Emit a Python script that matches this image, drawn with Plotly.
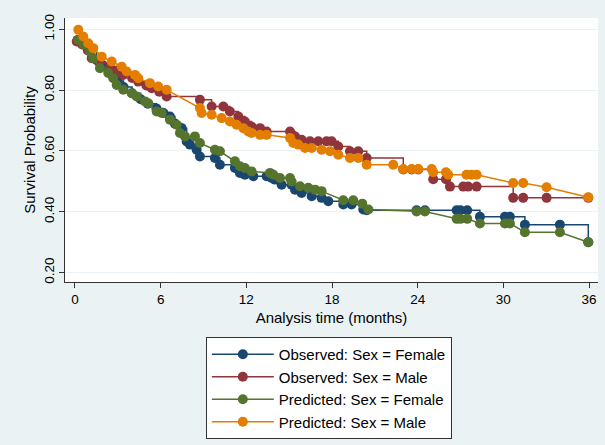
import plotly.graph_objects as go

# Kaplan-Meier (observed) and model-based (predicted) survival by sex
obs_f_t = [0.2, 0.6, 1.05, 1.5, 2.0, 2.6, 3.0, 3.4, 4.0, 4.6, 5.1, 5.7, 6.2, 6.65, 7.0, 7.47,
           7.82, 8.05, 8.52, 8.75, 9.8, 10.15, 11.2, 11.55, 11.9, 12.49, 13.42, 13.77, 14.0,
           14.47, 15.17, 15.41, 15.87, 16.58, 17.27, 17.74, 18.79, 19.37, 20.19, 20.43, 23.92,
           24.51, 26.73, 27.0, 27.47, 28.36, 30.11, 30.46, 31.51, 33.96, 35.95]
obs_f_s = [0.965, 0.95, 0.928, 0.9, 0.88, 0.85, 0.83, 0.81, 0.79, 0.77, 0.755, 0.74, 0.725, 0.713,
           0.69, 0.675, 0.631, 0.621, 0.604, 0.582, 0.577, 0.555, 0.544, 0.528, 0.522, 0.517, 0.517,
           0.511, 0.506, 0.489, 0.489, 0.473, 0.462, 0.451, 0.446, 0.435, 0.424, 0.424, 0.408,
           0.405, 0.405, 0.405, 0.405, 0.405, 0.405, 0.384, 0.384, 0.384, 0.358, 0.358, 0.30]

obs_m_t = [0.12, 0.5, 0.9, 1.17, 1.7, 2.45, 3.0, 3.38, 4.0, 4.43, 5.0, 5.37, 5.9, 6.42, 8.75,
           9.57, 10.39, 10.85, 11.44, 11.9, 12.37, 12.96, 13.42, 15.06, 15.41, 15.87, 16.46,
           17.04, 17.62, 17.97, 18.44, 19.26, 19.84, 20.43, 22.99, 23.58, 24.04, 25.09, 25.98,
           26.26, 27.19, 27.54, 28.13, 30.69, 31.39, 33.03, 35.95]
obs_m_s = [0.96, 0.95, 0.93, 0.905, 0.89, 0.877, 0.865, 0.85, 0.84, 0.828, 0.815, 0.806, 0.795,
           0.779, 0.768, 0.746, 0.746, 0.73, 0.713, 0.697, 0.68, 0.675, 0.664, 0.664, 0.648, 0.637,
           0.632, 0.632, 0.632, 0.632, 0.615, 0.599, 0.599, 0.577, 0.539, 0.539, 0.539, 0.507,
           0.507, 0.483, 0.483, 0.483, 0.483, 0.446, 0.446, 0.446, 0.446]

pred_f_t = [0.23, 0.6, 1.05, 1.28, 1.75, 2.33, 2.68, 2.92, 3.38, 3.97, 4.32, 4.9, 5.13, 5.72, 6.07,
            6.65, 7.12, 7.35, 7.7, 8.4, 8.75, 9.8, 10.15, 11.2, 11.55, 11.9, 12.37, 13.66, 13.89,
            14.36, 15.06, 15.17, 15.76, 16.34, 16.81, 17.27, 18.79, 19.49, 20.12, 20.55, 23.92,
            24.51, 26.73, 27.0, 27.47, 28.36, 30.11, 30.46, 31.51, 33.96, 35.95]
pred_f_s = [0.965, 0.95, 0.927, 0.905, 0.872, 0.856, 0.839, 0.817, 0.801, 0.79, 0.779, 0.763, 0.757,
            0.73, 0.725, 0.703, 0.686, 0.659, 0.648, 0.648, 0.626, 0.604, 0.599, 0.566, 0.55, 0.544,
            0.533, 0.528, 0.522, 0.511, 0.511, 0.5, 0.484, 0.479, 0.473, 0.468, 0.438, 0.438, 0.427,
            0.408, 0.401, 0.401, 0.377, 0.377, 0.377, 0.362, 0.362, 0.362, 0.333, 0.333, 0.30]

pred_m_t = [0.23, 0.58, 0.93, 1.28, 1.87, 2.57, 3.27, 3.62, 4.2, 4.43, 5.25, 5.83, 6.42, 8.75,
            8.87, 9.57, 10.27, 10.85, 11.32, 11.79, 12.14, 12.37, 12.96, 13.42, 15.06, 15.29,
            15.64, 16.11, 16.58, 17.27, 17.86, 18.44, 19.26, 19.84, 20.43, 22.29, 22.99, 23.58,
            24.04, 24.98, 25.09, 25.98, 26.14, 27.42, 27.76, 28.13, 30.69, 31.39, 33.03, 35.95]
pred_m_s = [0.998, 0.976, 0.954, 0.938, 0.91, 0.894, 0.877, 0.861, 0.85, 0.839, 0.823, 0.812,
            0.801, 0.741, 0.725, 0.719, 0.708, 0.697, 0.686, 0.675, 0.664, 0.659, 0.653, 0.653,
            0.643, 0.626, 0.621, 0.61, 0.61, 0.604, 0.599, 0.588, 0.577, 0.577, 0.555, 0.555,
            0.541, 0.541, 0.541, 0.541, 0.53, 0.53, 0.522, 0.522, 0.522, 0.522, 0.495, 0.495,
            0.481, 0.448]

x_ticks = [0, 6, 12, 18, 24, 30, 36]
y_ticks = [0.2, 0.4, 0.6, 0.8, 1.0]
y_tick_text = ["0.20", "0.40", "0.60", "0.80", "1.00"]

series = [
    ("Observed: Sex = Female", obs_f_t, obs_f_s, "#1a476f", "hv"),
    ("Observed: Sex = Male", obs_m_t, obs_m_s, "#90353b", "hv"),
    ("Predicted: Sex = Female", pred_f_t, pred_f_s, "#55752f", "linear"),
    ("Predicted: Sex = Male", pred_m_t, pred_m_s, "#e37e00", "linear"),
]

FONT = "Liberation Sans, Arial, sans-serif"

fig = go.Figure()
for name, t, s, color, shape in series:
    fig.add_trace(go.Scatter(
        x=t, y=s, name=name, mode="lines+markers",
        line=dict(color=color, width=1.5, shape=shape),
        marker=dict(color=color, size=10, line=dict(width=0)),
    ))

fig.update_layout(
    width=605, height=445,
    margin=dict(l=65, r=7, t=18, b=163, autoexpand=False),
    paper_bgcolor="#eaf2f3",
    plot_bgcolor="white",
    font=dict(family=FONT, size=14, color="black"),
    showlegend=True,
    legend=dict(
        x=0.495, xanchor="center", y=-0.208, yanchor="top",
        bgcolor="white", bordercolor="#333333", borderwidth=1,
        font=dict(family=FONT, size=15, color="black"),
        itemwidth=62, tracegroupgap=0,
    ),
    xaxis=dict(
        range=[-0.7, 36.63], tickmode="array", tickvals=x_ticks,
        ticks="outside", ticklen=5, tickcolor="#333333",
        showline=True, linecolor="#333333", linewidth=1,
        showgrid=False, zeroline=False,
        tickfont=dict(size=13.5),
        title=dict(text="Analysis time (months)", font=dict(size=15), standoff=6),
    ),
    yaxis=dict(
        range=[0.1695, 1.037], tickmode="array", tickvals=y_ticks, ticktext=y_tick_text,
        tickangle=-90, ticks="outside", ticklen=5, tickcolor="#333333",
        showline=True, linecolor="#333333", linewidth=1,
        showgrid=True, gridcolor="#eaf2f3", gridwidth=1, zeroline=False,
        tickfont=dict(size=13.5),
        title=dict(text="Survival Probability", font=dict(size=15), standoff=2),
    ),
)

fig.write_html("out.html")
